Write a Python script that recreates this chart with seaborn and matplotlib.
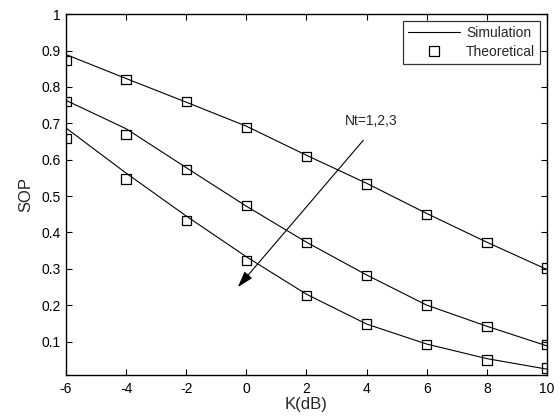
import numpy as np
import pandas as pd
import matplotlib
matplotlib.use("Agg")
import matplotlib.pyplot as plt
from matplotlib.lines import Line2D
import seaborn as sns

K_DB = [-6, -4, -2, 0, 2, 4, 6, 8, 10]
NT = [1, 2, 3]

# simulation curves (lines)
SIM_NT1 = [0.889, 0.823, 0.758, 0.692, 0.612, 0.535, 0.452, 0.373, 0.298]
SIM_NT2 = [0.763, 0.685, 0.578, 0.472, 0.373, 0.283, 0.200, 0.142, 0.088]
SIM_NT3 = [0.687, 0.563, 0.445, 0.333, 0.230, 0.148, 0.093, 0.053, 0.024]

# theoretical values (square markers)
THEO_NT1 = [0.873, 0.820, 0.760, 0.689, 0.609, 0.533, 0.450, 0.372, 0.302]
THEO_NT2 = [0.759, 0.669, 0.573, 0.473, 0.372, 0.282, 0.200, 0.141, 0.091]
THEO_NT3 = [0.659, 0.547, 0.433, 0.323, 0.227, 0.148, 0.091, 0.049, 0.027]


def long_form(series):
    rows = []
    for nt, vals in zip(NT, series):
        for k, v in zip(K_DB, vals):
            rows.append({"K": k, "SOP": v, "Nt": nt})
    return pd.DataFrame(rows)


sim = long_form([SIM_NT1, SIM_NT2, SIM_NT3])
theo = long_form([THEO_NT1, THEO_NT2, THEO_NT3])

sns.set_style("ticks")
plt.rcParams["font.family"] = ["Liberation Sans", "DejaVu Sans"]
plt.rcParams["axes.unicode_minus"] = False

fig = plt.figure(figsize=(5.59, 4.16), dpi=100)
ax = fig.add_axes([0.118, 0.0986, 0.8605, 0.8674])

sns.lineplot(data=sim, x="K", y="SOP", hue="Nt", units="Nt", estimator=None,
             palette=["black"] * 3, linewidth=0.8, legend=False, ax=ax)
sns.scatterplot(data=theo, x="K", y="SOP", hue="Nt", palette=["black"] * 3,
                marker="s", s=45, linewidth=0.9, legend=False, ax=ax)
for coll in ax.collections:
    coll.set_facecolor("none")
    coll.set_edgecolor("black")

ax.set_xlim(-6, 10)
ax.set_ylim(0.008, 1)
ax.set_xticks(K_DB)
ax.set_yticks([0.1, 0.2, 0.3, 0.4, 0.5, 0.6, 0.7, 0.8, 0.9, 1])
ax.set_yticklabels(["0.1", "0.2", "0.3", "0.4", "0.5", "0.6", "0.7", "0.8", "0.9", "1"])
ax.tick_params(direction="in", top=True, right=True, length=4, width=0.8,
               labelsize=10, colors="black")
ax.tick_params(axis="x", pad=5)
for sp in ax.spines.values():
    sp.set_linewidth(1.0)
    sp.set_color("black")

ax.set_xlabel("K(dB)", fontsize=12, labelpad=1)
ax.set_ylabel("SOP", fontsize=12, labelpad=6)

ax.annotate("", xy=(-0.34, 0.244), xytext=(3.95, 0.659),
            arrowprops=dict(arrowstyle="-|>,head_length=0.7,head_width=0.22",
                            color="black", lw=0.8, mutation_scale=14))
ax.text(4.15, 0.686, "Nt=1,2,3", fontsize=10, ha="center", va="bottom")

handles = [
    Line2D([], [], color="black", linewidth=0.8),
    Line2D([], [], color="black", linestyle="none", marker="s",
           markerfacecolor="none", markersize=6.5, markeredgewidth=0.9),
]
leg = ax.legend(handles, ["Simulation", "Theoretical"], loc="upper right",
                fontsize=10, frameon=True, fancybox=False, edgecolor="black",
                borderaxespad=0.5, handlelength=3.8, borderpad=0.35,
                labelspacing=0.35, handletextpad=0.4)
leg.get_frame().set_linewidth(0.9)

fig.savefig("out.png", dpi=100)
